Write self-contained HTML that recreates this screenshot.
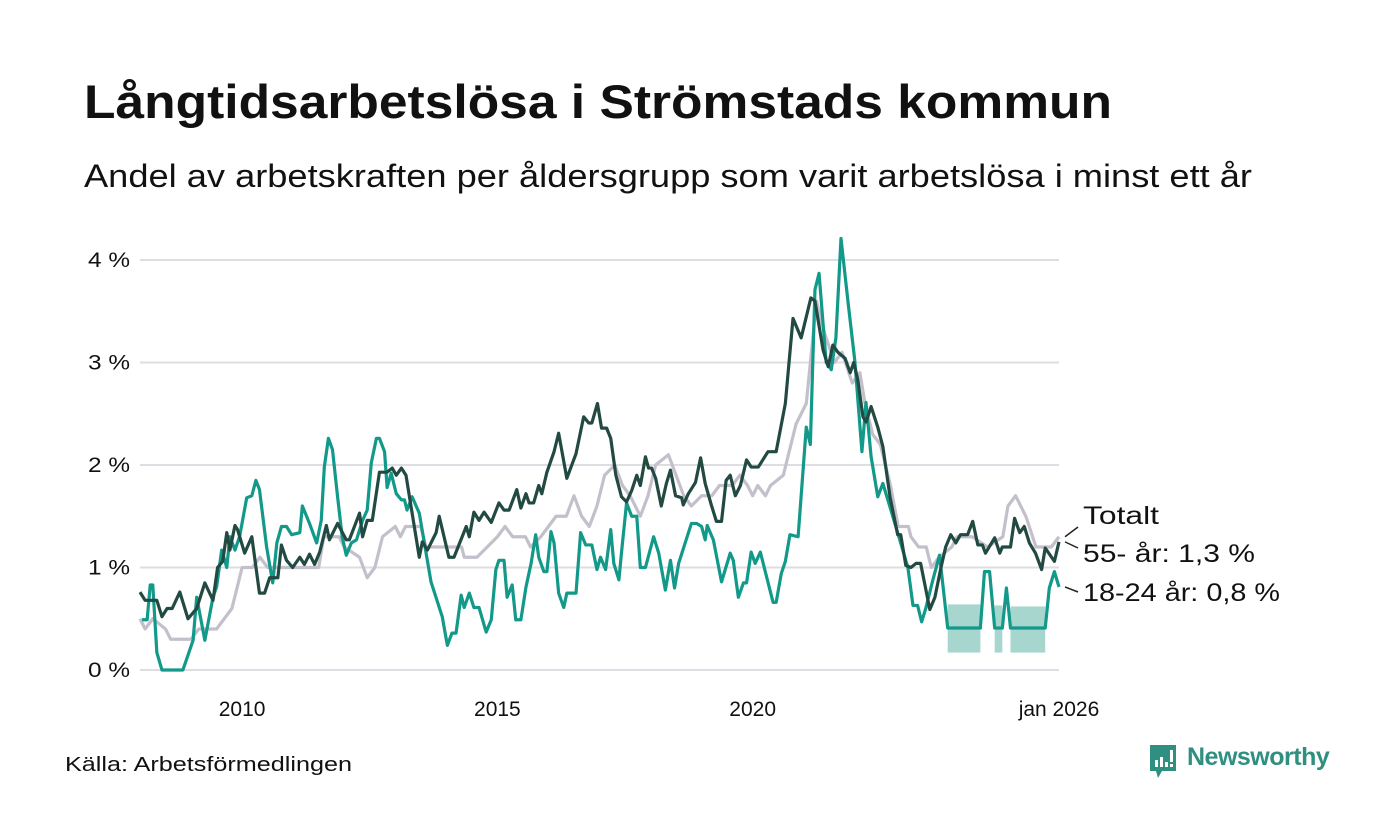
<!DOCTYPE html>
<html><head><meta charset="utf-8">
<style>
body{margin:0;width:1400px;height:840px;background:#fff;font-family:"Liberation Sans",sans-serif;overflow:hidden}
#wrap{position:relative;width:1400px;height:840px}
</style></head><body>
<div id="wrap">
<svg id="chart" width="1400" height="840" style="position:absolute;left:0;top:0" font-family="Liberation Sans, sans-serif">
<text x="84" y="118" font-size="47" font-weight="bold" fill="#111" textLength="1028" lengthAdjust="spacingAndGlyphs">Långtidsarbetslösa i Strömstads kommun</text>
<text x="84" y="187" font-size="32" fill="#111" textLength="1168" lengthAdjust="spacingAndGlyphs">Andel av arbetskraften per åldersgrupp som varit arbetslösa i minst ett år</text>
<text x="65" y="771" font-size="20" fill="#111" textLength="287" lengthAdjust="spacingAndGlyphs">Källa: Arbetsförmedlingen</text>
</svg>
<div style="position:absolute;left:1148px;top:745px;">
<svg width="30" height="34"><path d="M2 0H28V26H14L10 33L8 26H2Z" fill="#2f8f80"/><rect x="7" y="15" width="3" height="7" fill="#fff"/><rect x="12" y="12" width="3" height="10" fill="#fff"/><rect x="17" y="17" width="3" height="5" fill="#fff"/><rect x="22" y="5" width="3" height="12" fill="#fff"/><rect x="22" y="19" width="3" height="3" fill="#fff"/></svg>
<span style="position:absolute;left:39px;top:-2px;font-size:25px;font-weight:bold;color:#2f8f80;letter-spacing:-0.5px">Newsworthy</span>
</div>
</div>
<script>
const START_YEAR = 2008;
const yTicks = [0,1,2,3,4];
const yTickLabels = ["0 %","1 %","2 %","3 %","4 %"];
const xTicks = [2010,2015,2020,2026];
const xTickLabels = ["2010","2015","2020","jan 2026"];
const totDates = [0,.1,.25,.5,.6,1,1.15,1.5,1.65,1.8,1.9,2,2.2,2.35,2.5,3,3.5,3.6,3.9,4,4.3,4.45,4.6,4.75,5,5.1,5.2,5.5,5.6,6.3,6.35,6.6,6.8,7,7.15,7.3,7.55,7.65,7.85,8,8.15,8.35,8.5,8.65,8.8,8.95,9.1,9.3,9.45,9.6,9.8,9.95,10.1,10.35,10.5,10.65,10.8,11,11.2,11.35,11.6,11.75,11.9,12,12.1,12.25,12.35,12.6,12.85,13.05,13.15,13.25,13.4,13.6,13.75,13.95,14.1,14.2,14.35,14.5,14.7,14.85,15.05,15.1,15.25,15.4,15.5,15.65,15.9,16,16.3,16.6,16.9,17,17.15,17.35,17.55,17.85,18];
const totVals = [.5,.4,.5,.4,.3,.3,.4,.4,.5,.6,.8,1,1,1.1,1,1,1,1.3,1.3,1.2,1.1,.9,1,1.3,1.4,1.3,1.4,1.4,1.2,1.2,1.1,1.1,1.2,1.3,1.4,1.3,1.3,1.2,1.3,1.4,1.5,1.5,1.7,1.5,1.4,1.6,1.9,2,1.8,1.7,1.5,1.7,2,2.1,1.9,1.7,1.6,1.7,1.7,1.8,1.8,1.9,1.8,1.7,1.8,1.7,1.8,1.9,2.4,2.6,3.1,3.6,3.3,3,3.1,2.8,2.9,2.6,2.3,2.2,1.8,1.4,1.4,1.3,1.2,1.2,1,1.1,1.2,1.3,1.3,1.2,1.3,1.6,1.7,1.5,1.2,1.2,1.3];
const oldDates = [0,.1,.33,.43,.53,.63,.78,.94,1.11,1.27,1.43,1.52,1.62,1.7,1.76,1.86,1.91,2.05,2.19,2.34,2.44,2.54,2.7,2.77,2.87,2.99,3.13,3.22,3.32,3.42,3.52,3.65,3.71,3.87,4.04,4.1,4.3,4.36,4.45,4.55,4.69,4.84,4.94,5.02,5.12,5.21,5.33,5.47,5.53,5.63,5.8,5.86,6.05,6.15,6.39,6.45,6.54,6.64,6.74,6.88,7.03,7.13,7.23,7.38,7.46,7.56,7.62,7.71,7.81,7.87,7.97,8.11,8.2,8.36,8.54,8.69,8.79,8.85,8.96,9.04,9.14,9.22,9.32,9.43,9.53,9.63,9.73,9.8,9.9,9.96,10.02,10.1,10.21,10.31,10.39,10.49,10.61,10.64,10.74,10.88,10.98,11.07,11.19,11.29,11.39,11.48,11.56,11.66,11.76,11.88,11.97,12.11,12.3,12.46,12.64,12.79,12.95,13.14,13.22,13.38,13.48,13.57,13.67,13.81,13.91,13.98,14.06,14.16,14.22,14.32,14.45,14.55,14.69,14.84,14.9,15,15.1,15.2,15.29,15.47,15.57,15.68,15.78,15.88,15.98,16.07,16.21,16.31,16.41,16.5,16.56,16.74,16.84,16.89,17.05,17.13,17.23,17.32,17.42,17.54,17.66,17.73,17.91,18];
const oldVals = [.76,.68,.68,.52,.6,.6,.76,.5,.6,.85,.68,1,1.06,1.34,1.17,1.41,1.37,1.14,1.3,.75,.75,.9,.9,1.22,1.07,1,1.1,1.03,1.13,1.03,1.15,1.41,1.27,1.43,1.27,1.27,1.53,1.3,1.46,1.46,1.93,1.93,1.97,1.9,1.97,1.9,1.53,1.1,1.25,1.17,1.34,1.5,1.1,1.1,1.4,1.3,1.54,1.46,1.54,1.44,1.63,1.56,1.56,1.76,1.58,1.72,1.63,1.63,1.8,1.72,1.93,2.13,2.31,1.87,2.11,2.47,2.41,2.41,2.6,2.36,2.36,2.26,1.9,1.69,1.64,1.75,1.9,1.8,2.08,1.97,1.97,1.87,1.6,1.82,1.95,1.7,1.68,1.61,1.72,1.83,2.07,1.82,1.61,1.45,1.45,1.85,1.9,1.7,1.8,2.05,1.98,1.98,2.13,2.13,2.6,3.43,3.24,3.63,3.6,3.12,2.96,3.17,3.1,3.04,2.9,3,2.83,2.47,2.42,2.57,2.37,2.18,1.69,1.32,1.32,1.02,1,1.04,1.04,.59,.71,.98,1.2,1.32,1.24,1.32,1.32,1.45,1.22,1.22,1.14,1.29,1.14,1.2,1.2,1.48,1.34,1.4,1.24,1.14,.98,1.19,1.06,1.25];
const youngDates = [.04,.14,.2,.25,.33,.43,.84,1.04,1.11,1.27,1.43,1.5,1.6,1.7,1.76,1.86,1.95,2.09,2.19,2.27,2.34,2.48,2.6,2.68,2.77,2.87,2.97,3.13,3.18,3.32,3.46,3.55,3.61,3.69,3.77,3.87,3.96,4.04,4.14,4.24,4.36,4.45,4.53,4.63,4.69,4.79,4.84,4.92,5.02,5.12,5.18,5.23,5.33,5.47,5.7,5.92,6.02,6.11,6.19,6.29,6.35,6.45,6.54,6.64,6.78,6.88,6.97,7.03,7.13,7.19,7.29,7.36,7.46,7.56,7.66,7.75,7.81,7.91,7.97,8.05,8.11,8.2,8.3,8.36,8.54,8.63,8.73,8.85,8.95,9.02,9.12,9.22,9.28,9.38,9.43,9.53,9.63,9.73,9.8,9.9,10.06,10.16,10.29,10.39,10.47,10.55,10.8,10.9,11,11.07,11.11,11.23,11.39,11.56,11.62,11.72,11.82,11.88,11.97,12.05,12.15,12.4,12.46,12.56,12.64,12.73,12.89,13.05,13.13,13.22,13.3,13.44,13.54,13.63,13.73,13.87,14,14.14,14.22,14.32,14.45,14.55,14.69,14.84,15.04,15.14,15.23,15.31,15.39,15.53,15.66,15.82,16.46,16.54,16.64,16.74,16.89,16.97,17.05,17.73,17.81,17.91,18];
const youngVals = [.49,.49,.83,.83,.17,0,0,.29,.71,.29,.71,.81,1.17,1,1.3,1.17,1.3,1.68,1.7,1.85,1.76,1.2,.85,1.24,1.4,1.4,1.32,1.34,1.6,1.43,1.24,1.46,1.98,2.26,2.15,1.69,1.3,1.12,1.24,1.27,1.46,1.56,2.02,2.26,2.26,2.13,1.78,1.92,1.72,1.66,1.66,1.56,1.69,1.53,.86,.52,.24,.36,.36,.73,.61,.75,.61,.61,.37,.49,.98,1.07,1.07,.71,.83,.49,.49,.81,1.04,1.32,1.1,.96,.96,1.35,1.24,.75,.61,.75,.75,1.34,1.22,1.22,.98,1.1,.98,1.37,1.04,.88,1.14,1.63,1.5,1.5,1,1,1.3,1.14,.78,1.07,.8,1.04,1.43,1.43,1.4,1.27,1.41,1.27,.86,1.14,1.07,.71,.85,.85,1.15,1.04,1.15,.66,.66,.94,1.06,1.32,1.3,2.37,2.2,3.71,3.87,3,2.93,3.24,4.21,3.58,3.02,2.13,2.61,2.08,1.69,1.82,1.59,1.34,1,.63,.63,.47,.6,.88,1.12,.41,.41,.96,.96,.41,.41,.8,.41,.41,.8,.96,.81];
const bandStart = [15.82,16.74,17.05];
const bandEnd = [16.46,16.89,17.73];
const bandLow = [.17,.17,.17];
const bandHigh = [.64,.63,.62];

const NS="http://www.w3.org/2000/svg";
const svg=document.getElementById('chart');
const X0=140,X1=1059,Y0=670,Y4=260;
function xs(t){return X0+(t)/(18)*(X1-X0);}
function xy(year){return xs(year-START_YEAR);}
function ys(v){return Y0+(Y4-Y0)*v/4;}
function mk(tag,attrs){const e=document.createElementNS(NS,tag);for(const k in attrs)e.setAttribute(k,attrs[k]);svg.appendChild(e);return e;}
yTicks.forEach((v,i)=>{
  const g=mk('line',{x1:X0,x2:X1,y1:ys(v),y2:ys(v),stroke:'#dedde3','stroke-width':2});
  
  
  const t=mk('text',{x:130,y:ys(v)+7,'text-anchor':'end','font-size':21,fill:'#111',textLength:42,lengthAdjust:'spacingAndGlyphs'});
  t.textContent=yTickLabels[i];
  
  
});
xTicks.forEach((y,i)=>{
  const t=mk('text',{x:xy(y),y:716,'text-anchor':'middle','font-size':21,fill:'#111'});
  t.textContent=xTickLabels[i];
  
  
});
bandStart.forEach((s,i)=>{
  const r=mk('rect',{x:xs(s),y:ys(bandHigh[i]),width:xs(bandEnd[i])-xs(s),height:ys(bandLow[i])-ys(bandHigh[i]),fill:'#a6d6cd'});
  
  
});
function line(d,v,color,name){
  const p=mk('polyline',{points:d.map((t,i)=>xs(t)+','+ys(v[i])).join(' '),fill:'none',stroke:color,'stroke-width':3.2,'stroke-linejoin':'round'});
  
  
}
line(totDates,totVals,'#c3c0cc','line-totalt');
line(youngDates,youngVals,'#12998a','line-18-24');
line(oldDates,oldVals,'#234a42','line-55');
const lastT=totVals[totVals.length-1],lastO=oldVals[oldVals.length-1],lastY=youngVals[youngVals.length-1];
const labels=[[lastT,515,'Totalt','label-totalt',76],[lastO,553,'55- år: '+lastO.toFixed(1).replace('.',',')+' %','label-55',172],[lastY,592,'18-24 år: '+lastY.toFixed(1).replace('.',',')+' %','label-18-24',197]];
const leaderEnds=[527,548,592];
labels.forEach((l,i)=>{
  const ln=mk('line',{x1:X1+6,y1:ys(l[0]),x2:1078,y2:leaderEnds[i],stroke:'#222','stroke-width':1.5});
  
  
  const t=mk('text',{x:1083,y:l[1]+9,'font-size':25,fill:'#111',textLength:l[4],lengthAdjust:'spacingAndGlyphs'});
  t.textContent=l[2];
  
  
});
</script>
</body></html>
